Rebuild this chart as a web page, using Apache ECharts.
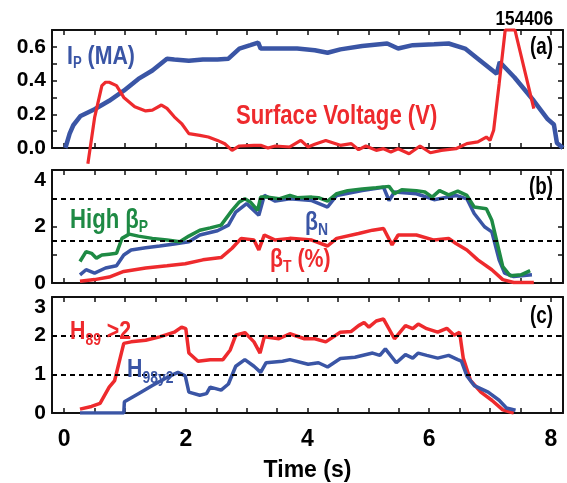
<!DOCTYPE html>
<html><head><meta charset="utf-8">
<script src="https://cdn.jsdelivr.net/npm/echarts@6/dist/echarts.min.js"></script>
<style>html,body{margin:0;padding:0;background:#fff}#c{width:567px;height:483px}</style>
</head><body><div id="c"></div>
<script>
// ---- data (time in s) ----
const ipTime = [0.02,0.09,0.15,0.27,0.5,0.74,0.98,1.22,1.45,1.69,1.81,2.05,2.28,2.52,2.7,2.88,3.06,3.19,3.23,3.47,3.83,4.12,4.33,4.54,4.9,5.31,5.49,5.73,6.08,6.32,6.59,6.8,7.11,7.16,7.4,7.72,7.95,8.05,8.1,8.2];
const ipVal  = [0.0,0.085,0.135,0.19,0.23,0.28,0.34,0.41,0.46,0.53,0.525,0.517,0.525,0.525,0.53,0.59,0.61,0.625,0.59,0.59,0.59,0.58,0.565,0.585,0.605,0.62,0.59,0.61,0.615,0.62,0.59,0.53,0.44,0.51,0.42,0.28,0.17,0.14,0.03,0.0];

const vsTime = [0.39,0.5,0.62,0.68,0.74,0.86,0.98,1.16,1.34,1.45,1.6,1.69,1.81,1.93,2.05,2.23,2.37,2.52,2.64,2.76,2.88,3.12,3.23,3.35,3.47,3.71,3.89,4.01,4.12,4.3,4.54,4.72,4.84,4.96,5.13,5.25,5.37,5.49,5.67,5.85,6.02,6.2,6.44,6.62,6.8,6.94,7.0,7.06,7.15,7.25,7.41,7.72];
const vsVal  = [-0.093,0.18,0.37,0.39,0.39,0.37,0.3,0.245,0.22,0.225,0.255,0.235,0.185,0.145,0.085,0.075,0.065,0.045,0.025,-0.014,0.012,0.016,0.016,0.0,0.012,0.006,0.045,0.006,0.022,0.045,0.016,0.026,-0.01,0.012,-0.014,-0.004,-0.024,-0.004,-0.034,0.012,-0.028,-0.014,-0.004,0.026,0.036,0.065,0.045,0.105,0.38,0.7,0.7,0.234];

const bpTime = [0.26,0.36,0.45,0.53,0.62,0.74,0.86,0.95,1.07,1.22,1.45,1.69,1.9,2.05,2.23,2.4,2.58,2.76,2.88,2.97,3.06,3.18,3.23,3.35,3.53,3.71,3.83,4.07,4.18,4.33,4.48,4.66,4.9,5.13,5.34,5.43,5.55,5.79,5.93,6.05,6.17,6.32,6.47,6.62,6.74,6.94,7.03,7.12,7.21,7.33,7.51,7.66];
const bpVal  = [0.76,1.11,1.05,0.88,0.99,1.02,1.05,1.58,1.73,1.66,1.58,1.52,1.46,1.66,1.87,1.95,2.05,2.57,2.87,2.98,2.87,2.57,3.04,3.04,2.98,3.1,3.02,3.04,3.02,2.9,3.16,3.27,3.33,3.37,3.42,3.16,3.3,3.27,3.22,3.04,3.27,3.12,3.25,3.1,2.69,2.63,2.22,1.4,0.58,0.26,0.29,0.44];

const bnTime = [0.26,0.36,0.5,0.68,0.86,0.98,1.1,1.34,1.57,1.81,2.05,2.23,2.52,2.7,2.82,3.0,3.2,3.29,3.47,3.71,4.07,4.33,4.48,4.9,5.25,5.34,5.43,5.79,6.08,6.44,6.62,6.74,6.91,7.03,7.15,7.24,7.39,7.69];
const bnVal  = [0.29,0.47,0.35,0.53,0.61,0.99,1.17,1.25,1.31,1.38,1.46,1.7,1.85,2.05,2.51,2.81,2.4,3.1,2.9,2.98,2.92,2.69,3.1,3.27,3.39,2.92,3.22,3.16,2.95,3.1,2.98,2.46,1.99,1.81,0.82,0.35,0.23,0.29];

const btTime = [0.26,0.5,0.74,0.98,1.34,1.69,1.99,2.28,2.58,2.76,2.91,3.12,3.2,3.29,3.47,3.71,4.07,4.33,4.48,4.84,5.07,5.25,5.39,5.49,5.79,6.08,6.32,6.44,6.62,6.8,7.03,7.21,7.39,7.72];
const btVal  = [0.06,0.12,0.21,0.41,0.53,0.61,0.68,0.82,0.9,1.23,1.58,1.52,1.17,1.7,1.52,1.58,1.52,1.31,1.58,1.75,1.87,1.93,1.35,1.7,1.7,1.52,1.58,1.4,1.17,0.82,0.47,0.12,0.02,0.02];

const h89Time = [0.26,0.45,0.59,0.74,0.83,0.92,0.98,1.1,1.34,1.57,1.81,1.93,2.0,2.05,2.2,2.4,2.61,2.73,2.82,2.97,3.12,3.22,3.29,3.53,3.71,3.95,4.12,4.3,4.54,4.72,4.84,4.93,5.01,5.13,5.25,5.43,5.61,5.73,5.82,5.96,6.14,6.29,6.41,6.5,6.56,6.68,6.85,7.03,7.21,7.39];
const h89Val  = [0.1,0.17,0.25,0.67,0.84,1.42,1.8,1.84,1.88,1.97,2.09,2.22,2.18,1.55,1.34,1.38,1.38,1.63,2.01,2.08,1.84,1.55,1.97,1.92,2.05,1.92,1.92,1.84,2.09,2.11,2.26,2.34,2.22,2.38,2.43,1.92,2.26,2.18,2.3,2.18,2.09,2.19,2.01,2.09,1.42,0.84,0.54,0.33,0.08,0.0];

const h98Time = [0.26,0.98,0.99,1.22,1.45,1.69,1.87,1.99,2.05,2.23,2.34,2.4,2.58,2.7,2.82,2.97,3.12,3.23,3.32,3.59,3.71,4.01,4.18,4.33,4.54,4.78,5.07,5.19,5.28,5.46,5.61,5.73,5.82,5.96,6.14,6.32,6.47,6.53,6.62,6.74,6.97,7.15,7.27,7.42];
const h98Val  = [0,0,0.29,0.5,0.71,0.92,1.05,0.96,0.54,0.46,0.5,0.67,0.59,0.75,1.21,1.38,1.21,1.05,1.3,1.34,1.38,1.26,1.3,1.19,1.41,1.44,1.55,1.49,1.66,1.3,1.51,1.42,1.55,1.49,1.42,1.49,1.38,1.34,0.96,0.71,0.54,0.33,0.13,0.07];

const xTicks = [0,0.5,1,1.5,2,2.5,3,3.5,4,4.5,5,5.5,6,6.5,7,7.5,8];
const xLabels = [0,2,4,6,8];
const aLabels = [0,0.2,0.4,0.6];
const bLabels = [0,2,4];
const cLabels = [0,1,2,3];
const bDashed = [1.5,3];
const cDashed = [1,2];

// ---- styling ----
const FONT = '"Liberation Sans",Arial,sans-serif';
const BLUE = '#3a55a5', RED = '#ee2a2d', GREEN = '#1e8a44';
const NARROW = 0.82;
const pairs = (t, v) => t.map((x, i) => [x, v[i]]);

const grids = [
  {left:52, right:4, top:30, height:118},
  {left:52, right:4, top:170, height:113},
  {left:52, right:4, top:297, height:120}
].map(g => Object.assign(g, {show:false, containLabel:false}));

const axLine = {show:true, onZero:false, lineStyle:{color:'#111', width:2}};
const tickX = {show:true, inside:true, length:5, customValues:xTicks, lineStyle:{color:'#111', width:1.5}};
const tickY = {show:true, inside:true, length:5, lineStyle:{color:'#111', width:1.5}};
const xAxes = [], yAxes = [];
[0,1,2].forEach(i => {
  xAxes.push({type:'value', gridIndex:i, min:-0.2, max:8.2, position:'bottom',
    axisLine:axLine, splitLine:{show:false}, axisTick:tickX,
    axisLabel: i === 2 ? {show:true, customValues:xLabels, fontFamily:FONT, fontWeight:'bold', fontSize:23, color:'#000', margin:15} : {show:false},
    name: i === 2 ? 'Time (s)' : '', nameLocation:'middle', nameGap:46,
    nameTextStyle:{fontFamily:FONT, fontWeight:'bold', fontSize:23, color:'#000'}});
  xAxes.push({type:'value', gridIndex:i, min:-0.2, max:8.2, position:'top',
    axisLine:axLine, splitLine:{show:false}, axisTick:tickX, axisLabel:{show:false}});
});
const yConf = [
  {max:0.7, interval:0.1, labels:aLabels, fmt:v => v.toFixed(1)},
  {max:4, interval:1, labels:bLabels, fmt:v => String(v)},
  {max:3, interval:1, labels:cLabels, fmt:v => String(v)}
];
yConf.forEach((c, i) => {
  yAxes.push({type:'value', gridIndex:i, min:0, max:c.max, interval:c.interval, position:'left',
    axisLine:axLine, splitLine:{show:false}, axisTick:tickY,
    axisLabel:{show:true, customValues:c.labels, formatter:c.fmt, fontFamily:FONT, fontWeight:'bold', fontSize:21, color:'#000', margin:6,
      verticalAlignMaxLabel: i === 0 ? 'middle' : 'top'}});
  yAxes.push({type:'value', gridIndex:i, min:0, max:c.max, interval:c.interval, position:'right',
    axisLine:axLine, splitLine:{show:false}, axisTick:tickY, axisLabel:{show:false}});
});

const line = (name, t, v, color, w, xi, yi, extra) => Object.assign({
  name, type:'line', xAxisIndex:xi, yAxisIndex:yi, data:pairs(t, v), showSymbol:false, symbol:'none',
  lineStyle:{color, width:w}, itemStyle:{color}, animation:false, z:3
}, extra || {});

const dashed = (vals) => ({silent:true, symbol:'none', label:{show:false},
  lineStyle:{type:[5,4], color:'#000', width:1.8}, data: vals.map(v => ({yAxis:v}))});

const series = [
  line('Ip', ipTime, ipVal, BLUE, 4.5, 0, 0),
  line('Surface Voltage', vsTime, vsVal, RED, 3.2, 0, 0, {clip:false}),
  line('betaN', bnTime, bnVal, BLUE, 3.5, 2, 2, {markLine:dashed(bDashed)}),
  line('betaT', btTime, btVal, RED, 3.5, 2, 2),
  line('High betaP', bpTime, bpVal, GREEN, 3.5, 2, 2),
  line('H89', h89Time, h89Val, RED, 3.5, 4, 4, {markLine:dashed(cDashed)}),
  line('H98y2', h98Time, h98Val, BLUE, 3.5, 4, 4)
];

const txt = (x, y, text, rich, align) => ({type:'text', x, y, z:10, scaleX:NARROW, scaleY:1,
  style:{text, rich, align: align || 'left', verticalAlign:'middle', font:'bold 22px ' + FONT}});
const big = (color, size) => ({fontFamily:FONT, fontWeight:'bold', fontSize:size, fill:color, lineHeight:size+2});
const sub = (color, size, pad) => ({fontFamily:FONT, fontWeight:'bold', fontSize:size, fill:color, lineHeight:size+2, padding:[pad,0,0,0]});

const graphic = [
  txt(553, 19, '{k|154406}', {k:big('#000', 21)}, 'right'),
  txt(553, 48, '{k|(a)}', {k:big('#000', 23)}, 'right'),
  txt(553, 188, '{k|(b)}', {k:big('#000', 23)}, 'right'),
  txt(553, 317, '{k|(c)}', {k:big('#000', 23)}, 'right'),
  txt(67, 57, '{a|I}{s|P}{a| (MA)}', {a:big(BLUE, 26), s:sub(BLUE, 16, 14)}),
  txt(236, 117, '{a|Surface Voltage (V)}', {a:big(RED, 27)}),
  txt(70, 221, '{a|High β}{s|P}', {a:big(GREEN, 27), s:sub(GREEN, 17, 12)}),
  txt(305, 223, '{a|β}{s|N}', {a:big(BLUE, 26), s:sub(BLUE, 17, 14)}),
  txt(270, 260, '{a|β}{s|T}{a| (%)}', {a:big(RED, 26), s:sub(RED, 17, 14)}),
  txt(70, 332, '{a|H}{s|89}{a| >2}', {a:big(RED, 26), s:sub(RED, 17, 16)}),
  txt(127, 370, '{a|H}{s|98y2}', {a:big(BLUE, 26), s:sub(BLUE, 17, 16)})
];

const chart = echarts.init(document.getElementById('c'), null, {renderer:'canvas'});
chart.setOption({animation:false, grid:grids, xAxis:xAxes, yAxis:yAxes, series, graphic});
</script></body></html>
